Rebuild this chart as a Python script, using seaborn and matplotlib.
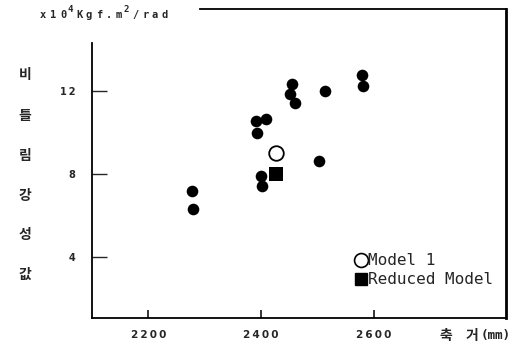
import numpy as np
import pandas as pd
import matplotlib
matplotlib.use("Agg")
import matplotlib.pyplot as plt
import seaborn as sns
from matplotlib.lines import Line2D

# measured data (wheelbase mm vs torsional stiffness x1e4)
wheelbase = [2580, 2581, 2455, 2451, 2460, 2513, 2391, 2409, 2393, 2503, 2400, 2402, 2278, 2280]
stiffness = [12.77, 12.24, 12.34, 11.86, 11.42, 12.0, 10.55, 10.65, 9.98, 8.63, 7.9, 7.42, 7.18, 6.31]
model1_x = [2427]
model1_y = [9.01]
reduced_x = [2427]
reduced_y = [8.0]

x_ticks = [2200, 2400, 2600]
y_ticks = [4, 8, 12]
ylabel_chars = ["비", "틀", "림", "강", "성", "값"]
units = [("x", 0), ("1", 0), ("0", 0), ("4", 1), ("K", 0), ("g", 0), ("f", 0), (".", 0),
         ("m", 0), ("2", 1), ("/", 0), ("r", 0), ("a", 0), ("d", 0)]

sns.set_style("white")
plt.rcParams['font.family'] = ['Noto Sans CJK KR', 'DejaVu Sans']

fig = plt.figure(figsize=(5.3, 3.47), dpi=100)
ax = fig.add_axes([92/530, 1-318/347, (506-92)/530, (318-9)/347])

df = pd.DataFrame({"x": wheelbase, "y": stiffness})
sns.scatterplot(data=df, x="x", y="y", ax=ax, color="black", s=70, edgecolor="black", linewidth=0)
sns.scatterplot(x=model1_x, y=model1_y, ax=ax, marker="o", s=110, facecolor="white", edgecolor="black", linewidth=1.3)
sns.scatterplot(x=reduced_x, y=reduced_y, ax=ax, marker="s", s=105, color="black", edgecolor="black", linewidth=0)

thin = "\u2009"
ax.set_xlim(2100, 2835)
ax.set_ylim(1.05, 15.95)
ax.set_xticks(x_ticks)
ax.set_yticks(y_ticks)
ax.set_xticklabels([thin.join(str(v)) for v in x_ticks])
ax.set_yticklabels([thin.join(str(v)) for v in y_ticks])
ax.set_xlabel("")
ax.set_ylabel("")
ax.tick_params(axis="y", left=True, direction="in", length=11, width=1, pad=12, labelsize=7)
ax.tick_params(axis="x", bottom=True, direction="in", length=6, width=1.3, pad=9, labelsize=7.5)
for lab in ax.get_xticklabels() + ax.get_yticklabels():
    lab.set_fontfamily("DejaVu Sans")
    lab.set_fontweight("bold")

for s in ax.spines.values():
    s.set_color("black")
    s.set_linewidth(1.3)
ax.spines["right"].set_linewidth(2)
ax.spines["left"].set_bounds(1.05, 14.3)
ax.spines["top"].set_bounds(2292, 2835)

handles = [
    Line2D([], [], marker="o", linestyle="", markerfacecolor="white", markeredgecolor="black", markersize=10, markeredgewidth=1.2),
    Line2D([], [], marker="s", linestyle="", color="black", markersize=9),
]
ax.legend(handles, ["Model 1", "Reduced Model"], loc="center left", bbox_to_anchor=(0.615, 0.155),
          frameon=False, handletextpad=0.05, handlelength=0.8, labelspacing=0.25, borderpad=0,
          prop={"family": "DejaVu Sans Mono", "size": 11.5})

# unit text, drawn at a fixed wide pitch like the original
px = 40
for ch, sup in units:
    if sup:
        fig.text((px - 2)/530, 1-10/347, ch, fontsize=6.5, fontweight="bold",
                 family="DejaVu Sans Mono", va="center", ha="left")
        px += 6
    else:
        fig.text(px/530, 1-15/347, ch, fontsize=7.5, fontweight="bold",
                 family="DejaVu Sans Mono", va="center", ha="left")
        px += 10

ys = [75, 116, 156, 196, 235, 275]
for ch, yy in zip(ylabel_chars, ys):
    fig.text(25/530, 1-yy/347, ch, fontsize=10, fontweight="bold", ha="center", va="center")
fig.text(446/530, 1-336/347, "축", fontsize=10, fontweight="bold", ha="center", va="center")
fig.text(472/530, 1-336/347, "거", fontsize=10, fontweight="bold", ha="center", va="center")
fig.text(481/530, 1-336/347, "(mm)", fontsize=9, fontweight="bold", family="DejaVu Sans Mono", ha="left", va="center")

fig.savefig("out.png", dpi=100)
